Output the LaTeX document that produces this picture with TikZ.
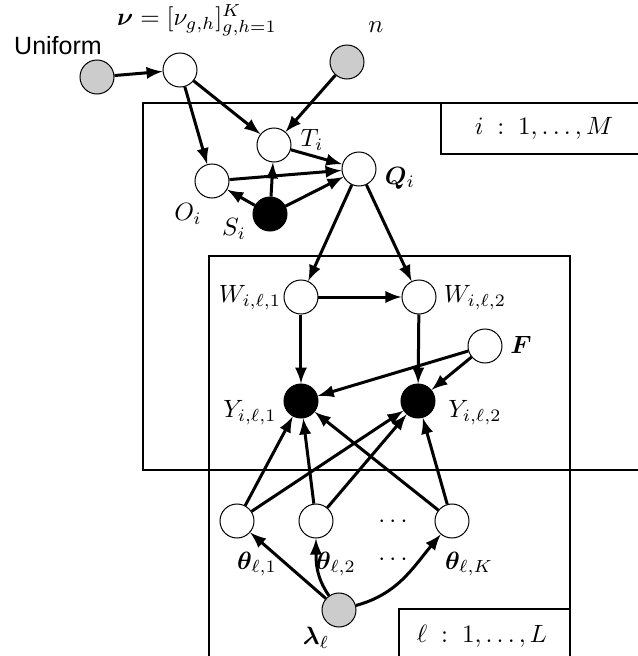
\documentclass[tikz,border=0pt]{standalone}
\usepackage{amsmath,amssymb,bm}
\usepackage{fontspec}
\newfontfamily\helv{Liberation Sans}
\usepackage{tikz}
\usetikzlibrary{shapes,arrows,positioning,fit,backgrounds}

\begin{document}
\begin{tikzpicture}[
    x=0.4pt, y=0.4pt,
    latent/.style={circle, draw, thin, fill=white, minimum size=13.6pt, inner sep=0pt},
    observed/.style={latent, fill=black},
    fixed/.style={latent, fill=gray!40},
    lbl/.style={inner sep=0pt},
    plate/.style={draw, semithick},
    arrow/.style={-latex, very thick}
]
    \useasboundingbox (0,0) rectangle (638,656);
    \clip (0,0) rectangle (638,656);

    \draw[plate] (143,553) rectangle (650,186);
    \draw[plate] (441,553) rectangle (650,502);
    \draw[plate] (209,400) rectangle (570,-10);
    \draw[plate] (399,47) rectangle (570,-10);
    \node[lbl] (mlabel) at (544,528) {$i \;:\; 1,\ldots,M$};
    \node[lbl] (llabel) at (482,20) {$\ell \;:\; 1,\ldots,L$};

    \node[fixed] (unif) at (97,579) {};
    \node[latent] (nu) at (180,586) {};
    \node[fixed] (n) at (347,594) {};
    \node[latent] (T) at (274,511) {};
    \node[latent] (O) at (212,475) {};
    \node[observed] (S) at (270,442) {};
    \node[latent] (Q) at (359,487) {};
    \node[latent] (W1) at (301,359) {};
    \node[latent] (W2) at (419,359) {};
    \node[latent] (F) at (485,310) {};
    \node[observed] (Y1) at (301,255) {};
    \node[observed] (Y2) at (418,255) {};
    \node[latent] (th1) at (237,135) {};
    \node[latent] (th2) at (316,135) {};
    \node[latent] (thK) at (452,135) {};
    \node[fixed] (lam) at (339,46) {};
    \node[lbl] (dotsA) at (395,134) {$\cdots$};
    \node[lbl] (dotsB) at (395,96) {$\cdots$};

    \node[lbl, font=\helv] (uniflbl) at (58,610) {Uniform};
    \node[lbl] (nulbl) at (197,636) {$\boldsymbol{\nu} = [\nu_{g,h}]_{g,h=1}^{K}$};
    \node[lbl] (nlbl) at (376,629) {$n$};
    \node[lbl] (Tlbl) at (312,516) {$T_i$};
    \node[lbl] (Olbl) at (188,442) {$O_i$};
    \node[lbl] (Slbl) at (234,427) {$S_i$};
    \node[lbl] (Qlbl) at (400,478) {$\boldsymbol{Q}_i$};
    \node[lbl] (W1lbl) at (250,358) {$W_{i,\ell,1}$};
    \node[lbl] (W2lbl) at (475,358) {$W_{i,\ell,2}$};
    \node[lbl] (Flbl) at (521,311) {$\boldsymbol{F}$};
    \node[lbl] (Y1lbl) at (250,243) {$Y_{i,\ell,1}$};
    \node[lbl] (Y2lbl) at (475,243) {$Y_{i,\ell,2}$};
    \node[lbl] (th1lbl) at (257,92) {$\boldsymbol{\theta}_{\ell,1}$};
    \node[lbl] (th2lbl) at (336,92) {$\boldsymbol{\theta}_{\ell,2}$};
    \node[lbl] (thKlbl) at (469,92) {$\boldsymbol{\theta}_{\ell,K}$};
    \node[lbl] (lamlbl) at (316,18) {$\boldsymbol{\lambda}_{\ell}$};

    \draw[arrow] (unif) -- (nu);
    \draw[arrow] (nu) -- (T);
    \draw[arrow] (nu) -- (O);
    \draw[arrow] (n) -- (T);
    \draw[arrow] (T) -- (Q);
    \draw[arrow] (O) -- (Q);
    \draw[arrow] (S) -- (Q);
    \draw[arrow] (S) -- (T);
    \draw[arrow] (S) -- (O);
    \draw[arrow] (Q) -- (W1);
    \draw[arrow] (Q) -- (W2);
    \draw[arrow] (W1) -- (W2);
    \draw[arrow] (W1) -- (Y1);
    \draw[arrow] (W2) -- (Y2);
    \draw[arrow] (F) -- (Y1);
    \draw[arrow] (F) -- (Y2);
    \draw[arrow] (th1) -- (Y1);
    \draw[arrow] (th1) -- (Y2);
    \draw[arrow] (th2) -- (Y1);
    \draw[arrow] (th2) -- (Y2);
    \draw[arrow] (thK) -- (Y1);
    \draw[arrow] (thK) -- (Y2);
    \draw[arrow] (lam) -- (th1);
    \draw[arrow] (lam) to[out=125, in=-90] (th2);
    \draw[arrow] (lam) to[out=15, in=-130] (thK);
\end{tikzpicture}
\end{document}
